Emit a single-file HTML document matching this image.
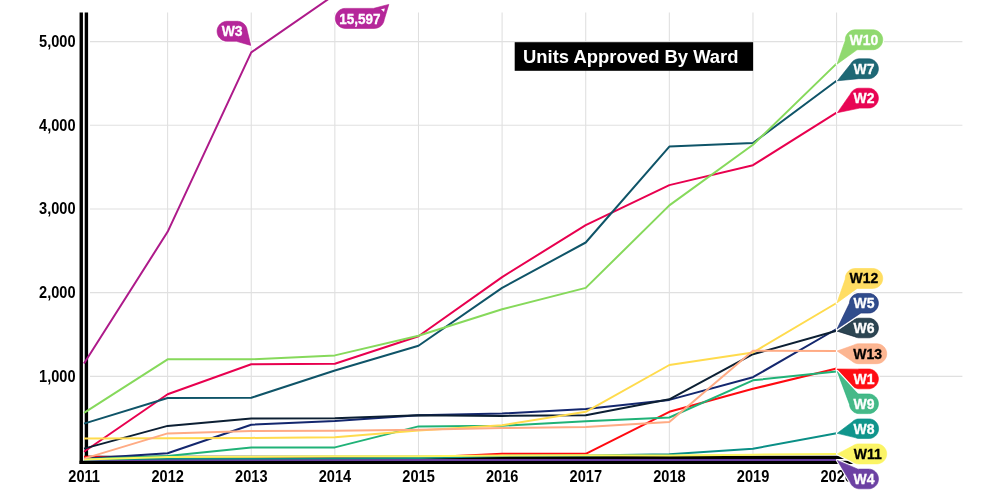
<!DOCTYPE html>
<html lang="en">
<head>
<meta charset="utf-8">
<title>Units Approved By Ward</title>
<style>
html,body{margin:0;padding:0;background:#fff;}
body{width:1000px;height:502px;overflow:hidden;position:relative;font-family:"Liberation Sans",Arial,sans-serif;}
svg{position:absolute;left:0;top:0;display:block;}
svg text{font-family:"Liberation Sans",Arial,sans-serif;font-weight:bold;}
.grid line{stroke:#dfdfdf;stroke-width:1.05;}
.grid line.h{stroke:#e0e0e0;stroke-width:1.15;}
.axis line{stroke:#000;stroke-width:3.4;}
.tick{font-size:14.6px;fill:#000;}
.lines polyline{fill:none;stroke-width:2.0;stroke-linejoin:round;stroke-linecap:butt;}
.lab text{font-size:14px;text-anchor:middle;stroke-width:0.3px;}
.title{font-size:18.42px;fill:#fff;}
</style>
</head>
<body>
<svg width="1000" height="502" viewBox="0 0 1000 502">
<rect x="0" y="0" width="1000" height="502" fill="#fff"/>

<g class="grid">
<line x1="167.62" y1="12.4" x2="167.62" y2="455.5"/>
<line x1="251.24" y1="12.4" x2="251.24" y2="455.5"/>
<line x1="334.86" y1="12.4" x2="334.86" y2="455.5"/>
<line x1="418.48" y1="12.4" x2="418.48" y2="455.5"/>
<line x1="502.10" y1="12.4" x2="502.10" y2="455.5"/>
<line x1="585.72" y1="12.4" x2="585.72" y2="455.5"/>
<line x1="669.34" y1="12.4" x2="669.34" y2="455.5"/>
<line x1="752.96" y1="12.4" x2="752.96" y2="455.5"/>
<line x1="836.58" y1="12.4" x2="836.58" y2="455.5"/>
<line class="h" x1="90" y1="376.32" x2="962.4" y2="376.32"/>
<line class="h" x1="90" y1="292.64" x2="962.4" y2="292.64"/>
<line class="h" x1="90" y1="208.96" x2="962.4" y2="208.96"/>
<line class="h" x1="90" y1="125.28" x2="962.4" y2="125.28"/>
<line class="h" x1="90" y1="41.60" x2="962.4" y2="41.60"/>
</g>
<g class="axis">
<line x1="81.25" y1="12.4" x2="81.25" y2="464.1"/>
<line x1="86.4" y1="12.4" x2="86.4" y2="459"/>
<line x1="79.55" y1="462.4" x2="859" y2="462.4"/>
<line x1="84.8" y1="457.4" x2="859" y2="457.4"/>
</g>
<g class="tick">
<text transform="translate(75.6,381.82) scale(1,1.07)" text-anchor="end">1,000</text>
<text transform="translate(75.6,298.14) scale(1,1.07)" text-anchor="end">2,000</text>
<text transform="translate(75.6,214.46) scale(1,1.07)" text-anchor="end">3,000</text>
<text transform="translate(75.6,130.78) scale(1,1.07)" text-anchor="end">4,000</text>
<text transform="translate(75.6,47.10) scale(1,1.07)" text-anchor="end">5,000</text>
<text transform="translate(84.10,482.0) scale(1,1.09)" text-anchor="middle">2011</text>
<text transform="translate(167.72,482.0) scale(1,1.09)" text-anchor="middle">2012</text>
<text transform="translate(251.34,482.0) scale(1,1.09)" text-anchor="middle">2013</text>
<text transform="translate(334.96,482.0) scale(1,1.09)" text-anchor="middle">2014</text>
<text transform="translate(418.58,482.0) scale(1,1.09)" text-anchor="middle">2015</text>
<text transform="translate(502.20,482.0) scale(1,1.09)" text-anchor="middle">2016</text>
<text transform="translate(585.82,482.0) scale(1,1.09)" text-anchor="middle">2017</text>
<text transform="translate(669.44,482.0) scale(1,1.09)" text-anchor="middle">2018</text>
<text transform="translate(753.06,482.0) scale(1,1.09)" text-anchor="middle">2019</text>
<text transform="translate(836.68,482.0) scale(1,1.09)" text-anchor="middle">2020</text>
</g>
<rect x="514.7" y="42.2" width="238.4" height="28.6" fill="#000"/>
<text class="title" transform="translate(523,62.9) scale(1,1.03)">Units Approved By Ward</text>
<g class="lines">
<polyline stroke="#ff0a10" points="84.00,456.80 167.62,457.80 251.24,458.00 334.86,458.00 418.48,457.80 502.10,453.70 585.72,453.80 669.34,411.80 752.96,388.80 836.58,368.50"/>
<polyline stroke="#e8004f" points="84.00,451.70 167.62,394.20 251.24,364.30 334.86,363.80 418.48,336.20 502.10,277.10 585.72,225.10 669.34,185.10 752.96,165.20 836.58,112.70"/>
<polyline stroke="#ae1a8a" points="84.00,363.50 167.62,231.80 251.24,52.40 334.86,-5.40"/>
<polyline stroke="#6a3fa2" points="84.00,459.90 167.62,459.90 251.24,459.90 334.86,459.90 418.48,459.90 502.10,459.90 585.72,459.90 669.34,459.90 752.96,459.90 836.58,459.90"/>
<polyline stroke="#14276e" points="84.00,458.70 167.62,453.30 251.24,424.70 334.86,421.00 418.48,415.20 502.10,413.50 585.72,409.10 669.34,399.90 752.96,377.20 836.58,329.00"/>
<polyline stroke="#0c1f33" points="84.00,448.60 167.62,425.90 251.24,418.60 334.86,418.20 418.48,415.20 502.10,415.90 585.72,415.20 669.34,399.30 752.96,354.20 836.58,330.80"/>
<polyline stroke="#0f5468" points="84.00,423.60 167.62,398.00 251.24,397.80 334.86,370.50 418.48,345.80 502.10,287.90 585.72,242.50 669.34,146.60 752.96,143.00 836.58,80.80"/>
<polyline stroke="#0a8f86" points="84.00,459.60 167.62,458.50 251.24,458.50 334.86,458.30 418.48,458.00 502.10,455.90 585.72,455.40 669.34,454.20 752.96,448.70 836.58,433.20"/>
<polyline stroke="#20b277" points="84.00,459.30 167.62,455.90 251.24,447.40 334.86,447.40 418.48,426.40 502.10,425.70 585.72,421.30 669.34,417.50 752.96,380.30 836.58,371.60"/>
<polyline stroke="#86d95b" points="84.00,412.80 167.62,359.30 251.24,359.30 334.86,355.40 418.48,335.80 502.10,309.20 585.72,287.90 669.34,205.40 752.96,144.80 836.58,63.60"/>
<polyline stroke="#fbf55f" points="84.00,459.50 167.62,457.00 251.24,456.70 334.86,456.20 418.48,456.30 502.10,455.60 585.72,455.30 669.34,455.40 752.96,454.70 836.58,454.00"/>
<polyline stroke="#ffdb4d" points="84.00,438.40 167.62,438.30 251.24,437.90 334.86,437.30 418.48,430.40 502.10,425.30 585.72,411.80 669.34,365.00 752.96,352.50 836.58,303.00"/>
<polyline stroke="#ffab84" points="84.00,458.60 167.62,433.40 251.24,431.10 334.86,430.80 418.48,429.70 502.10,428.00 585.72,427.00 669.34,422.00 752.96,350.80 836.58,351.10"/>
</g>
<g class="lab">
<path d="M247.23 30.86 L246.91 28.91 L246.45 27.51 L246.00 26.55 L245.21 25.31 L244.30 24.26 L243.51 23.55 L242.37 22.74 L241.06 22.08 L239.59 21.59 L238.63 21.40 L237.73 21.31 L226.57 21.31 L225.60 21.41 L224.63 21.61 L223.70 21.90 L222.79 22.28 L221.93 22.74 L221.11 23.29 L220.36 23.92 L219.67 24.61 L219.05 25.37 L218.50 26.19 L218.05 27.06 L217.67 27.97 L217.39 28.91 L217.20 29.87 L217.11 30.85 L217.11 31.83 L217.30 33.29 L217.70 34.70 L218.26 35.98 L219.05 37.23 L220.00 38.34 L221.11 39.31 L221.99 39.90 L223.31 40.55 L224.71 41.01 L225.60 41.19 L226.57 41.29 L235.94 41.30 L236.49 41.35 L250.80 45.40Z" fill="#b5279a" stroke="#fff" stroke-width="2.8" stroke-linejoin="round"/>
<path d="M247.23 30.86 L246.91 28.91 L246.45 27.51 L246.00 26.55 L245.21 25.31 L244.30 24.26 L243.51 23.55 L242.37 22.74 L241.06 22.08 L239.59 21.59 L238.63 21.40 L237.73 21.31 L226.57 21.31 L225.60 21.41 L224.63 21.61 L223.70 21.90 L222.79 22.28 L221.93 22.74 L221.11 23.29 L220.36 23.92 L219.67 24.61 L219.05 25.37 L218.50 26.19 L218.05 27.06 L217.67 27.97 L217.39 28.91 L217.20 29.87 L217.11 30.85 L217.11 31.83 L217.30 33.29 L217.70 34.70 L218.26 35.98 L219.05 37.23 L220.00 38.34 L221.11 39.31 L221.99 39.90 L223.31 40.55 L224.71 41.01 L225.60 41.19 L226.57 41.29 L235.94 41.30 L236.49 41.35 L250.80 45.40Z" fill="#b5279a" stroke="#ae1a8a" stroke-width="0.6" stroke-linejoin="round"/>
<text transform="translate(232.15,36.30) scale(1,1.05)" fill="#fff" stroke="#fff">W3</text>
<path d="M388.80 4.40 L373.97 8.30 L373.47 8.39 L345.28 8.40 L343.80 8.51 L342.36 8.84 L341.44 9.18 L340.55 9.60 L339.71 10.11 L338.93 10.69 L338.20 11.36 L337.55 12.09 L336.97 12.88 L336.46 13.72 L336.05 14.61 L335.72 15.53 L335.49 16.49 L335.35 17.46 L335.30 18.44 L335.35 19.42 L335.50 20.39 L335.74 21.34 L336.25 22.64 L336.97 23.92 L337.87 25.09 L338.93 26.11 L339.78 26.73 L341.06 27.45 L342.43 27.98 L343.80 28.29 L345.32 28.40 L374.28 28.40 L375.80 28.29 L377.24 27.96 L378.54 27.45 L379.41 27.00 L380.23 26.45 L380.99 25.83 L381.68 25.14 L382.31 24.39 L382.86 23.57 L383.32 22.71 L383.88 21.27 L384.30 19.36Z" fill="#b5279a" stroke="#fff" stroke-width="2.8" stroke-linejoin="round"/>
<path d="M388.80 4.40 L373.97 8.30 L373.47 8.39 L345.28 8.40 L343.80 8.51 L342.36 8.84 L341.44 9.18 L340.55 9.60 L339.71 10.11 L338.93 10.69 L338.20 11.36 L337.55 12.09 L336.97 12.88 L336.46 13.72 L336.05 14.61 L335.72 15.53 L335.49 16.49 L335.35 17.46 L335.30 18.44 L335.35 19.42 L335.50 20.39 L335.74 21.34 L336.25 22.64 L336.97 23.92 L337.87 25.09 L338.93 26.11 L339.78 26.73 L341.06 27.45 L342.43 27.98 L343.80 28.29 L345.32 28.40 L374.28 28.40 L375.80 28.29 L377.24 27.96 L378.54 27.45 L379.41 27.00 L380.23 26.45 L380.99 25.83 L381.68 25.14 L382.31 24.39 L382.86 23.57 L383.32 22.71 L383.88 21.27 L384.30 19.36Z" fill="#b5279a" stroke="#ae1a8a" stroke-width="0.6" stroke-linejoin="round"/>
<text transform="translate(359.80,23.60) scale(0.965,1.01)" fill="#fff" stroke="#fff">15,597</text>
<path d="M381 9.2 L384.8 8.4 L384 12 Z" fill="#fff"/>
<path d="M837.00 64.20 L856.62 50.10 L857.19 49.84 L857.80 49.72 L858.11 49.70 L872.73 49.70 L873.76 49.65 L875.13 49.41 L876.14 49.11 L877.41 48.54 L878.25 48.04 L879.03 47.46 L879.76 46.81 L880.42 46.09 L881.00 45.31 L881.51 44.47 L881.93 43.59 L882.26 42.67 L882.50 41.73 L882.65 40.76 L882.70 39.79 L882.65 38.81 L882.52 37.85 L882.28 36.90 L881.96 35.98 L881.54 35.09 L881.04 34.25 L880.42 33.41 L879.76 32.69 L878.71 31.78 L877.83 31.20 L876.59 30.57 L875.67 30.24 L874.73 30.00 L873.69 29.85 L872.73 29.80 L854.73 29.81 L853.27 30.00 L851.93 30.37 L850.96 30.77 L849.69 31.50 L848.54 32.40 L847.54 33.47 L846.70 34.67 L846.04 35.98 L845.72 36.90 L845.48 37.85 L845.35 38.81 L845.27 40.35 L845.14 40.88Z" fill="#90d970" stroke="#fff" stroke-width="2.8" stroke-linejoin="round"/>
<path d="M837.00 64.20 L856.62 50.10 L857.19 49.84 L857.80 49.72 L858.11 49.70 L872.73 49.70 L873.76 49.65 L875.13 49.41 L876.14 49.11 L877.41 48.54 L878.25 48.04 L879.03 47.46 L879.76 46.81 L880.42 46.09 L881.00 45.31 L881.51 44.47 L881.93 43.59 L882.26 42.67 L882.50 41.73 L882.65 40.76 L882.70 39.79 L882.65 38.81 L882.52 37.85 L882.28 36.90 L881.96 35.98 L881.54 35.09 L881.04 34.25 L880.42 33.41 L879.76 32.69 L878.71 31.78 L877.83 31.20 L876.59 30.57 L875.67 30.24 L874.73 30.00 L873.69 29.85 L872.73 29.80 L854.73 29.81 L853.27 30.00 L851.93 30.37 L850.96 30.77 L849.69 31.50 L848.54 32.40 L847.54 33.47 L846.70 34.67 L846.04 35.98 L845.72 36.90 L845.48 37.85 L845.35 38.81 L845.27 40.35 L845.14 40.88Z" fill="#90d970" stroke="#86d95b" stroke-width="0.6" stroke-linejoin="round"/>
<text transform="translate(864.00,44.75) scale(1,1.05)" fill="#fff" stroke="#fff">W10</text>
<path d="M858.69 78.68 L868.47 78.70 L869.39 78.65 L870.35 78.52 L871.77 78.13 L873.11 77.54 L874.35 76.76 L875.51 75.76 L876.16 75.03 L876.74 74.25 L877.24 73.41 L877.66 72.52 L877.98 71.60 L878.22 70.65 L878.35 69.69 L878.40 68.71 L878.35 67.74 L878.20 66.77 L877.96 65.83 L877.63 64.91 L877.21 64.03 L876.70 63.19 L876.12 62.41 L875.46 61.69 L874.73 61.04 L874.01 60.50 L872.67 59.74 L871.77 59.37 L870.90 59.11 L869.39 58.85 L868.43 58.80 L858.93 58.81 L857.95 58.91 L857.00 59.11 L856.06 59.39 L855.16 59.77 L853.95 60.46 L853.17 61.04 L852.44 61.69 L851.78 62.41 L851.20 63.19 L850.56 64.19 L837.40 80.80Z" fill="#1e6875" stroke="#fff" stroke-width="2.8" stroke-linejoin="round"/>
<path d="M858.69 78.68 L868.47 78.70 L869.39 78.65 L870.35 78.52 L871.77 78.13 L873.11 77.54 L874.35 76.76 L875.51 75.76 L876.16 75.03 L876.74 74.25 L877.24 73.41 L877.66 72.52 L877.98 71.60 L878.22 70.65 L878.35 69.69 L878.40 68.71 L878.35 67.74 L878.20 66.77 L877.96 65.83 L877.63 64.91 L877.21 64.03 L876.70 63.19 L876.12 62.41 L875.46 61.69 L874.73 61.04 L874.01 60.50 L872.67 59.74 L871.77 59.37 L870.90 59.11 L869.39 58.85 L868.43 58.80 L858.93 58.81 L857.95 58.91 L857.00 59.11 L856.06 59.39 L855.16 59.77 L853.95 60.46 L853.17 61.04 L852.44 61.69 L851.78 62.41 L851.20 63.19 L850.56 64.19 L837.40 80.80Z" fill="#1e6875" stroke="#0f5468" stroke-width="0.6" stroke-linejoin="round"/>
<text transform="translate(863.95,73.75) scale(1,1.05)" fill="#fff" stroke="#fff">W7</text>
<path d="M837.40 112.70 L859.72 108.12 L868.43 108.10 L869.39 108.05 L870.43 107.90 L871.37 107.66 L872.29 107.33 L873.17 106.91 L874.01 106.40 L874.79 105.82 L875.51 105.16 L876.16 104.43 L876.74 103.65 L877.24 102.81 L877.66 101.92 L877.98 101.00 L878.22 100.05 L878.35 99.09 L878.40 98.11 L878.35 97.14 L878.20 96.17 L877.96 95.23 L877.63 94.31 L877.21 93.43 L876.46 92.25 L875.85 91.50 L875.10 90.75 L874.35 90.14 L873.53 89.60 L872.29 88.97 L871.30 88.62 L870.35 88.38 L869.39 88.25 L868.47 88.20 L858.93 88.21 L857.95 88.31 L856.60 88.62 L855.61 88.97 L854.73 89.39 L853.89 89.90 L853.11 90.48 L852.39 91.14 L851.48 92.19 L850.94 93.00 L850.29 94.16Z" fill="#e80554" stroke="#fff" stroke-width="2.8" stroke-linejoin="round"/>
<path d="M837.40 112.70 L859.72 108.12 L868.43 108.10 L869.39 108.05 L870.43 107.90 L871.37 107.66 L872.29 107.33 L873.17 106.91 L874.01 106.40 L874.79 105.82 L875.51 105.16 L876.16 104.43 L876.74 103.65 L877.24 102.81 L877.66 101.92 L877.98 101.00 L878.22 100.05 L878.35 99.09 L878.40 98.11 L878.35 97.14 L878.20 96.17 L877.96 95.23 L877.63 94.31 L877.21 93.43 L876.46 92.25 L875.85 91.50 L875.10 90.75 L874.35 90.14 L873.53 89.60 L872.29 88.97 L871.30 88.62 L870.35 88.38 L869.39 88.25 L868.47 88.20 L858.93 88.21 L857.95 88.31 L856.60 88.62 L855.61 88.97 L854.73 89.39 L853.89 89.90 L853.11 90.48 L852.39 91.14 L851.48 92.19 L850.94 93.00 L850.29 94.16Z" fill="#e80554" stroke="#e8004f" stroke-width="0.6" stroke-linejoin="round"/>
<text transform="translate(863.95,103.15) scale(1,1.05)" fill="#fff" stroke="#fff">W2</text>
<path d="M856.35 288.97 L856.89 288.66 L857.19 288.55 L857.80 288.42 L858.11 288.40 L872.73 288.40 L873.76 288.35 L875.13 288.11 L876.14 287.81 L877.41 287.24 L878.25 286.74 L879.03 286.16 L879.76 285.51 L880.42 284.79 L881.00 284.01 L881.51 283.17 L881.93 282.29 L882.26 281.37 L882.50 280.43 L882.65 279.46 L882.70 278.49 L882.65 277.51 L882.52 276.55 L882.28 275.60 L881.96 274.68 L881.54 273.79 L881.04 272.95 L880.42 272.11 L879.46 271.10 L878.65 270.44 L877.83 269.90 L876.97 269.44 L875.67 268.94 L874.73 268.70 L873.69 268.55 L872.73 268.50 L854.73 268.51 L853.27 268.70 L851.93 269.07 L850.96 269.47 L849.69 270.20 L848.54 271.10 L847.54 272.17 L846.70 273.37 L846.04 274.68 L845.72 275.60 L845.48 276.55 L845.35 277.51 L845.27 279.04 L845.13 279.57 L836.90 303.00Z" fill="#ffdd63" stroke="#fff" stroke-width="2.8" stroke-linejoin="round"/>
<path d="M856.35 288.97 L856.89 288.66 L857.19 288.55 L857.80 288.42 L858.11 288.40 L872.73 288.40 L873.76 288.35 L875.13 288.11 L876.14 287.81 L877.41 287.24 L878.25 286.74 L879.03 286.16 L879.76 285.51 L880.42 284.79 L881.00 284.01 L881.51 283.17 L881.93 282.29 L882.26 281.37 L882.50 280.43 L882.65 279.46 L882.70 278.49 L882.65 277.51 L882.52 276.55 L882.28 275.60 L881.96 274.68 L881.54 273.79 L881.04 272.95 L880.42 272.11 L879.46 271.10 L878.65 270.44 L877.83 269.90 L876.97 269.44 L875.67 268.94 L874.73 268.70 L873.69 268.55 L872.73 268.50 L854.73 268.51 L853.27 268.70 L851.93 269.07 L850.96 269.47 L849.69 270.20 L848.54 271.10 L847.54 272.17 L846.70 273.37 L846.04 274.68 L845.72 275.60 L845.48 276.55 L845.35 277.51 L845.27 279.04 L845.13 279.57 L836.90 303.00Z" fill="#ffdd63" stroke="#ffdb4d" stroke-width="0.6" stroke-linejoin="round"/>
<text transform="translate(864.00,283.45) scale(1,1.05)" fill="#000" stroke="#000">W12</text>
<path d="M837.20 331.20 L854.57 336.63 L856.03 337.24 L857.35 337.60 L858.30 337.75 L859.32 337.80 L868.58 337.80 L869.60 337.75 L870.55 337.60 L871.48 337.37 L872.38 337.04 L873.25 336.62 L874.07 336.13 L874.84 335.55 L875.56 334.90 L876.20 334.19 L876.77 333.41 L877.26 332.59 L877.67 331.72 L877.99 330.81 L878.22 329.88 L878.36 328.92 L878.40 327.96 L878.35 327.00 L878.11 325.65 L877.81 324.66 L877.22 323.35 L876.49 322.19 L875.84 321.39 L874.79 320.40 L873.67 319.61 L872.38 318.96 L870.95 318.49 L870.00 318.30 L869.12 318.21 L859.32 318.20 L858.30 318.25 L857.35 318.40 L856.03 318.76 L855.14 319.13 L854.23 319.61 L853.43 320.15 L852.31 321.07Z" fill="#2c4552" stroke="#fff" stroke-width="2.8" stroke-linejoin="round"/>
<path d="M837.20 331.20 L854.57 336.63 L856.03 337.24 L857.35 337.60 L858.30 337.75 L859.32 337.80 L868.58 337.80 L869.60 337.75 L870.55 337.60 L871.48 337.37 L872.38 337.04 L873.25 336.62 L874.07 336.13 L874.84 335.55 L875.56 334.90 L876.20 334.19 L876.77 333.41 L877.26 332.59 L877.67 331.72 L877.99 330.81 L878.22 329.88 L878.36 328.92 L878.40 327.96 L878.35 327.00 L878.11 325.65 L877.81 324.66 L877.22 323.35 L876.49 322.19 L875.84 321.39 L874.79 320.40 L873.67 319.61 L872.38 318.96 L870.95 318.49 L870.00 318.30 L869.12 318.21 L859.32 318.20 L858.30 318.25 L857.35 318.40 L856.03 318.76 L855.14 319.13 L854.23 319.61 L853.43 320.15 L852.31 321.07Z" fill="#2c4552" stroke="#0c1f33" stroke-width="0.6" stroke-linejoin="round"/>
<text transform="translate(863.95,333.00) scale(1,1.05)" fill="#fff" stroke="#fff">W6</text>
<path d="M837.00 329.00 L860.21 313.46 L860.76 313.23 L861.33 313.11 L868.57 313.10 L869.48 313.06 L870.44 312.92 L871.44 312.66 L872.73 312.17 L873.65 311.68 L874.77 310.89 L875.49 310.24 L876.14 309.53 L876.72 308.75 L877.22 307.93 L877.64 307.05 L877.96 306.14 L878.20 305.21 L878.35 304.25 L878.40 303.29 L878.36 302.32 L878.22 301.36 L877.99 300.43 L877.66 299.51 L877.25 298.64 L876.76 297.81 L876.19 297.03 L875.54 296.31 L874.83 295.66 L874.05 295.08 L873.16 294.55 L872.29 294.14 L871.37 293.81 L870.03 293.51 L869.07 293.41 L859.37 293.40 L857.94 293.50 L856.53 293.81 L855.55 294.16 L854.25 294.82 L853.13 295.61 L852.36 296.31 L851.71 297.03 L850.92 298.15 L850.46 299.01 L850.09 299.90 L849.81 300.82 L849.61 301.77 L849.49 302.83 L849.24 303.63Z" fill="#304c8c" stroke="#fff" stroke-width="2.8" stroke-linejoin="round"/>
<path d="M837.00 329.00 L860.21 313.46 L860.76 313.23 L861.33 313.11 L868.57 313.10 L869.48 313.06 L870.44 312.92 L871.44 312.66 L872.73 312.17 L873.65 311.68 L874.77 310.89 L875.49 310.24 L876.14 309.53 L876.72 308.75 L877.22 307.93 L877.64 307.05 L877.96 306.14 L878.20 305.21 L878.35 304.25 L878.40 303.29 L878.36 302.32 L878.22 301.36 L877.99 300.43 L877.66 299.51 L877.25 298.64 L876.76 297.81 L876.19 297.03 L875.54 296.31 L874.83 295.66 L874.05 295.08 L873.16 294.55 L872.29 294.14 L871.37 293.81 L870.03 293.51 L869.07 293.41 L859.37 293.40 L857.94 293.50 L856.53 293.81 L855.55 294.16 L854.25 294.82 L853.13 295.61 L852.36 296.31 L851.71 297.03 L850.92 298.15 L850.46 299.01 L850.09 299.90 L849.81 300.82 L849.61 301.77 L849.49 302.83 L849.24 303.63Z" fill="#304c8c" stroke="#14276e" stroke-width="0.6" stroke-linejoin="round"/>
<text transform="translate(863.95,308.25) scale(1,1.05)" fill="#fff" stroke="#fff">W5</text>
<path d="M837.20 351.00 L851.52 360.75 L852.69 361.72 L853.50 362.26 L854.43 362.76 L855.73 363.26 L856.75 363.52 L858.13 363.69 L876.77 363.70 L878.25 363.59 L879.67 363.26 L881.04 362.73 L881.83 362.30 L882.65 361.76 L883.76 360.81 L884.72 359.71 L885.51 358.47 L886.11 357.14 L886.50 355.73 L886.69 354.27 L886.69 353.30 L886.60 352.33 L886.41 351.37 L886.13 350.43 L885.76 349.53 L885.30 348.67 L884.76 347.85 L884.15 347.10 L883.46 346.40 L882.71 345.78 L881.90 345.24 L881.04 344.77 L880.14 344.39 L879.20 344.11 L878.25 343.91 L877.27 343.81 L858.67 343.80 L857.71 343.85 L856.75 343.98 L855.26 344.39 L853.51 345.18Z" fill="#fcb692" stroke="#fff" stroke-width="2.8" stroke-linejoin="round"/>
<path d="M837.20 351.00 L851.52 360.75 L852.69 361.72 L853.50 362.26 L854.43 362.76 L855.73 363.26 L856.75 363.52 L858.13 363.69 L876.77 363.70 L878.25 363.59 L879.67 363.26 L881.04 362.73 L881.83 362.30 L882.65 361.76 L883.76 360.81 L884.72 359.71 L885.51 358.47 L886.11 357.14 L886.50 355.73 L886.69 354.27 L886.69 353.30 L886.60 352.33 L886.41 351.37 L886.13 350.43 L885.76 349.53 L885.30 348.67 L884.76 347.85 L884.15 347.10 L883.46 346.40 L882.71 345.78 L881.90 345.24 L881.04 344.77 L880.14 344.39 L879.20 344.11 L878.25 343.91 L877.27 343.81 L858.67 343.80 L857.71 343.85 L856.75 343.98 L855.26 344.39 L853.51 345.18Z" fill="#fcb692" stroke="#ffab84" stroke-width="0.6" stroke-linejoin="round"/>
<text transform="translate(867.70,358.75) scale(1,1.05)" fill="#000" stroke="#000">W13</text>
<path d="M836.80 369.00 L850.94 384.13 L851.77 385.21 L852.43 385.93 L853.47 386.83 L854.34 387.41 L855.58 388.03 L856.49 388.36 L857.91 388.69 L859.42 388.80 L868.95 388.79 L869.99 388.69 L871.41 388.36 L872.32 388.03 L873.56 387.41 L874.43 386.83 L875.47 385.93 L876.18 385.15 L876.97 384.02 L877.46 383.10 L877.96 381.81 L878.20 380.87 L878.35 379.91 L878.40 378.94 L878.36 377.97 L878.22 377.00 L877.98 376.06 L877.66 375.15 L877.25 374.27 L876.75 373.43 L876.18 372.65 L875.53 371.93 L874.81 371.27 L874.03 370.69 L873.20 370.19 L872.32 369.77 L871.41 369.44 L869.99 369.11 L868.52 369.00 L859.38 369.00 L857.51 369.14Z" fill="#ff0d14" stroke="#fff" stroke-width="2.8" stroke-linejoin="round"/>
<path d="M836.80 369.00 L850.94 384.13 L851.77 385.21 L852.43 385.93 L853.47 386.83 L854.34 387.41 L855.58 388.03 L856.49 388.36 L857.91 388.69 L859.42 388.80 L868.95 388.79 L869.99 388.69 L871.41 388.36 L872.32 388.03 L873.56 387.41 L874.43 386.83 L875.47 385.93 L876.18 385.15 L876.97 384.02 L877.46 383.10 L877.96 381.81 L878.20 380.87 L878.35 379.91 L878.40 378.94 L878.36 377.97 L878.22 377.00 L877.98 376.06 L877.66 375.15 L877.25 374.27 L876.75 373.43 L876.18 372.65 L875.53 371.93 L874.81 371.27 L874.03 370.69 L873.20 370.19 L872.32 369.77 L871.41 369.44 L869.99 369.11 L868.52 369.00 L859.38 369.00 L857.51 369.14Z" fill="#ff0d14" stroke="#ff0a10" stroke-width="0.6" stroke-linejoin="round"/>
<text transform="translate(863.95,383.90) scale(1,1.05)" fill="#fff" stroke="#fff">W1</text>
<path d="M837.20 371.40 L849.37 403.94 L849.51 404.44 L849.79 406.15 L850.09 407.14 L850.46 408.02 L851.13 409.21 L851.70 409.99 L852.34 410.70 L853.06 411.35 L853.83 411.93 L854.65 412.42 L855.52 412.84 L856.42 413.17 L857.35 413.40 L858.30 413.55 L859.32 413.60 L868.62 413.60 L869.52 413.56 L870.48 413.42 L871.87 413.04 L873.19 412.46 L874.41 411.69 L875.50 410.76 L876.15 410.04 L876.73 409.27 L877.22 408.45 L877.64 407.58 L877.97 406.68 L878.20 405.75 L878.35 404.80 L878.40 403.84 L878.36 402.88 L878.22 401.92 L877.99 400.99 L877.67 400.08 L877.26 399.21 L876.77 398.39 L876.20 397.61 L875.56 396.90 L874.41 395.91 L873.19 395.14 L871.87 394.56 L870.48 394.18 L869.52 394.04 L868.62 394.00 L859.06 393.99 L858.51 393.89 L857.74 393.56 L857.09 393.03Z" fill="#45b988" stroke="#fff" stroke-width="2.8" stroke-linejoin="round"/>
<path d="M837.20 371.40 L849.37 403.94 L849.51 404.44 L849.79 406.15 L850.09 407.14 L850.46 408.02 L851.13 409.21 L851.70 409.99 L852.34 410.70 L853.06 411.35 L853.83 411.93 L854.65 412.42 L855.52 412.84 L856.42 413.17 L857.35 413.40 L858.30 413.55 L859.32 413.60 L868.62 413.60 L869.52 413.56 L870.48 413.42 L871.87 413.04 L873.19 412.46 L874.41 411.69 L875.50 410.76 L876.15 410.04 L876.73 409.27 L877.22 408.45 L877.64 407.58 L877.97 406.68 L878.20 405.75 L878.35 404.80 L878.40 403.84 L878.36 402.88 L878.22 401.92 L877.99 400.99 L877.67 400.08 L877.26 399.21 L876.77 398.39 L876.20 397.61 L875.56 396.90 L874.41 395.91 L873.19 395.14 L871.87 394.56 L870.48 394.18 L869.52 394.04 L868.62 394.00 L859.06 393.99 L858.51 393.89 L857.74 393.56 L857.09 393.03Z" fill="#45b988" stroke="#20b277" stroke-width="0.6" stroke-linejoin="round"/>
<text transform="translate(863.95,408.80) scale(1,1.05)" fill="#fff" stroke="#fff">W9</text>
<path d="M837.20 433.30 L855.14 437.62 L856.95 438.21 L857.90 438.40 L858.86 438.49 L869.32 438.49 L870.27 438.39 L871.22 438.20 L872.14 437.91 L873.02 437.54 L873.87 437.09 L874.67 436.55 L875.41 435.94 L876.09 435.25 L876.69 434.51 L877.22 433.71 L877.67 432.86 L878.04 431.97 L878.31 431.05 L878.50 430.10 L878.59 429.14 L878.59 428.18 L878.49 427.23 L878.30 426.28 L878.01 425.36 L877.64 424.48 L876.97 423.29 L876.40 422.51 L875.70 421.74 L874.99 421.10 L874.21 420.53 L873.02 419.86 L872.14 419.49 L871.22 419.20 L870.20 419.00 L868.78 418.90 L859.28 418.90 L858.30 418.95 L857.35 419.10 L856.42 419.33 L855.52 419.66 L854.29 420.28 L853.49 420.81 L852.75 421.41 L851.93 422.17Z" fill="#10958c" stroke="#fff" stroke-width="2.8" stroke-linejoin="round"/>
<path d="M837.20 433.30 L855.14 437.62 L856.95 438.21 L857.90 438.40 L858.86 438.49 L869.32 438.49 L870.27 438.39 L871.22 438.20 L872.14 437.91 L873.02 437.54 L873.87 437.09 L874.67 436.55 L875.41 435.94 L876.09 435.25 L876.69 434.51 L877.22 433.71 L877.67 432.86 L878.04 431.97 L878.31 431.05 L878.50 430.10 L878.59 429.14 L878.59 428.18 L878.49 427.23 L878.30 426.28 L878.01 425.36 L877.64 424.48 L876.97 423.29 L876.40 422.51 L875.70 421.74 L874.99 421.10 L874.21 420.53 L873.02 419.86 L872.14 419.49 L871.22 419.20 L870.20 419.00 L868.78 418.90 L859.28 418.90 L858.30 418.95 L857.35 419.10 L856.42 419.33 L855.52 419.66 L854.29 420.28 L853.49 420.81 L852.75 421.41 L851.93 422.17Z" fill="#10958c" stroke="#0a8f86" stroke-width="0.6" stroke-linejoin="round"/>
<text transform="translate(864.05,433.70) scale(1,1.05)" fill="#fff" stroke="#fff">W8</text>
<path d="M837.30 460.40 L849.94 481.78 L850.56 483.19 L851.24 484.39 L851.86 485.23 L852.51 485.94 L853.55 486.84 L854.42 487.42 L855.27 487.87 L856.56 488.36 L857.56 488.62 L858.52 488.76 L859.47 488.80 L868.63 488.80 L870.13 488.69 L871.08 488.49 L872.39 488.06 L873.33 487.62 L874.15 487.12 L875.24 486.27 L875.92 485.59 L876.58 484.79 L877.12 483.98 L877.57 483.13 L877.94 482.23 L878.21 481.31 L878.40 480.36 L878.49 479.40 L878.49 478.43 L878.39 477.47 L878.19 476.52 L877.91 475.60 L877.54 474.71 L877.08 473.85 L876.54 473.05 L875.92 472.31 L875.24 471.63 L874.49 471.02 L873.68 470.48 L872.83 470.03 L871.54 469.54 L870.54 469.28 L869.58 469.14 L868.63 469.10 L859.47 469.10 L858.43 469.14 L857.59 469.00Z" fill="#6c41a3" stroke="#fff" stroke-width="2.8" stroke-linejoin="round"/>
<path d="M837.30 460.40 L849.94 481.78 L850.56 483.19 L851.24 484.39 L851.86 485.23 L852.51 485.94 L853.55 486.84 L854.42 487.42 L855.27 487.87 L856.56 488.36 L857.56 488.62 L858.52 488.76 L859.47 488.80 L868.63 488.80 L870.13 488.69 L871.08 488.49 L872.39 488.06 L873.33 487.62 L874.15 487.12 L875.24 486.27 L875.92 485.59 L876.58 484.79 L877.12 483.98 L877.57 483.13 L877.94 482.23 L878.21 481.31 L878.40 480.36 L878.49 479.40 L878.49 478.43 L878.39 477.47 L878.19 476.52 L877.91 475.60 L877.54 474.71 L877.08 473.85 L876.54 473.05 L875.92 472.31 L875.24 471.63 L874.49 471.02 L873.68 470.48 L872.83 470.03 L871.54 469.54 L870.54 469.28 L869.58 469.14 L868.63 469.10 L859.47 469.10 L858.43 469.14 L857.59 469.00Z" fill="#6c41a3" stroke="#6a3fa2" stroke-width="0.6" stroke-linejoin="round"/>
<text transform="translate(864.05,483.95) scale(1,1.05)" fill="#fff" stroke="#fff">W4</text>
<path d="M837.40 453.90 L852.40 461.72 L853.59 462.50 L854.46 462.95 L855.37 463.33 L856.71 463.70 L857.68 463.85 L858.72 463.90 L877.15 463.89 L878.61 463.71 L880.03 463.33 L881.38 462.74 L882.63 461.95 L883.80 460.94 L884.75 459.83 L885.26 459.07 L885.72 458.21 L886.26 456.84 L886.59 455.40 L886.70 453.94 L886.65 452.96 L886.51 451.99 L886.28 451.03 L885.95 450.11 L885.54 449.22 L885.03 448.38 L884.45 447.59 L883.80 446.86 L883.07 446.19 L882.29 445.61 L881.45 445.10 L880.56 444.68 L879.64 444.34 L878.69 444.10 L877.72 443.95 L876.68 443.90 L858.68 443.90 L857.27 444.00 L856.23 444.21 L854.91 444.65 L854.02 445.06 L852.40 446.08Z" fill="#fbf466" stroke="#fff" stroke-width="2.8" stroke-linejoin="round"/>
<path d="M837.40 453.90 L852.40 461.72 L853.59 462.50 L854.46 462.95 L855.37 463.33 L856.71 463.70 L857.68 463.85 L858.72 463.90 L877.15 463.89 L878.61 463.71 L880.03 463.33 L881.38 462.74 L882.63 461.95 L883.80 460.94 L884.75 459.83 L885.26 459.07 L885.72 458.21 L886.26 456.84 L886.59 455.40 L886.70 453.94 L886.65 452.96 L886.51 451.99 L886.28 451.03 L885.95 450.11 L885.54 449.22 L885.03 448.38 L884.45 447.59 L883.80 446.86 L883.07 446.19 L882.29 445.61 L881.45 445.10 L880.56 444.68 L879.64 444.34 L878.69 444.10 L877.72 443.95 L876.68 443.90 L858.68 443.90 L857.27 444.00 L856.23 444.21 L854.91 444.65 L854.02 445.06 L852.40 446.08Z" fill="#fbf466" stroke="#fbf55f" stroke-width="0.6" stroke-linejoin="round"/>
<text transform="translate(867.70,458.90) scale(1,1.05)" fill="#000" stroke="#000">W11</text>
</g>
</svg>
</body>
</html>
